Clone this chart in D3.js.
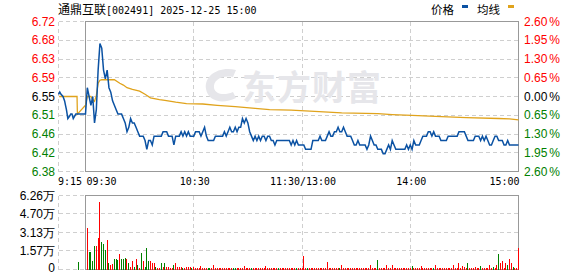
<!DOCTYPE html>
<html>
<head>
<meta charset="utf-8">
<script src="https://cdn.jsdelivr.net/npm/d3@7"></script>
<style>
  html, body { margin: 0; padding: 0; background: #fff; }
  #chart { width: 578px; height: 276px; }
</style>
</head>
<body>
<div id="chart"></div>
<script>
// intraday chart: 通鼎互联 002491, 2025-12-25
const stockName = '通鼎互联';
const stockCode = '[002491] 2025-12-25 15:00';
const prevClose = 6.55;

const pctTicks = [2.6, 1.95, 1.3, 0.65, 0, -0.65, -1.3, -1.95, -2.6];
const priceTickLabels = ['6.72', '6.68', '6.63', '6.59', '6.55', '6.51', '6.46', '6.42', '6.38'];
const pctTickLabels = ['2.60', '1.95', '1.30', '0.65', '0.00', '0.65', '1.30', '1.95', '2.60'];

const volTicks = [6.26, 4.70, 3.13, 1.57, 0];
const volTickLabels = ['6.26万', '4.70万', '3.13万', '1.57万', '0'];

const timeMinutes = [-15, 0, 60, 120, 180, 240];
const timeLabels = ['9:15', '09:30', '10:30', '11:30/13:00', '14:00', '15:00'];

// pre-market auction (minutes before 9:30)
const preMinutes = [-15, -14.3, -13.6, -12.5, -11.6, -11.1, -10.6, -9.8, -8.9, -8.2, -7.5, -6.8, -6.1, -5.4];
const prePrices = [6.555, 6.56, 6.555, 6.55, 6.54, 6.53, 6.52, 6.50, 6.505, 6.51, 6.51, 6.50, 6.505, 6.51];
const preAvgMinutes = [-14.6, -4.7, -4.5];
const preAvgValues = [6.55, 6.55, 6.51];
const preVolMinute = -4;
const preVolValue = 0.62;

// one price per minute, 9:30 .. 15:00 (lunch break removed)
const prices = [
  6.51, 6.57, 6.55, 6.53, 6.55, 6.49, 6.52, 6.61, 6.67, 6.66,
  6.61, 6.59, 6.61, 6.57, 6.56, 6.54, 6.53, 6.52, 6.51, 6.51,
  6.51, 6.50, 6.49, 6.47, 6.48, 6.50, 6.49, 6.49, 6.48, 6.47,
  6.46, 6.46, 6.46, 6.45, 6.43, 6.45, 6.45, 6.44, 6.46, 6.46,
  6.46, 6.46, 6.46, 6.47, 6.47, 6.47, 6.46, 6.46, 6.46, 6.44,
  6.46, 6.46, 6.46, 6.47, 6.46, 6.47, 6.46, 6.47, 6.46, 6.46,
  6.46, 6.47, 6.47, 6.47, 6.46, 6.47, 6.48, 6.46, 6.45, 6.45,
  6.45, 6.45, 6.46, 6.46, 6.46, 6.46, 6.46, 6.47, 6.46, 6.47,
  6.48, 6.47, 6.47, 6.48, 6.47, 6.48, 6.48, 6.50, 6.49, 6.50,
  6.49, 6.47, 6.46, 6.45, 6.46, 6.45, 6.46, 6.45, 6.46, 6.46,
  6.45, 6.46, 6.46, 6.45, 6.45, 6.44, 6.45, 6.45, 6.45, 6.45,
  6.45, 6.45, 6.45, 6.45, 6.44, 6.45, 6.44, 6.45, 6.44, 6.44,
  6.44, 6.44, 6.43, 6.43, 6.43, 6.43, 6.45, 6.45, 6.45, 6.45,
  6.46, 6.45, 6.45, 6.45, 6.46, 6.47, 6.46, 6.46, 6.47, 6.47,
  6.48, 6.47, 6.47, 6.48, 6.47, 6.46, 6.46, 6.46, 6.45, 6.44,
  6.44, 6.45, 6.44, 6.44, 6.44, 6.44, 6.43, 6.44, 6.46, 6.45,
  6.44, 6.44, 6.43, 6.43, 6.43, 6.42, 6.42, 6.43, 6.44, 6.43,
  6.45, 6.44, 6.43, 6.43, 6.43, 6.43, 6.43, 6.43, 6.44, 6.43,
  6.44, 6.43, 6.45, 6.44, 6.44, 6.44, 6.45, 6.46, 6.46, 6.46,
  6.47, 6.47, 6.46, 6.47, 6.46, 6.46, 6.46, 6.45, 6.45, 6.45,
  6.45, 6.46, 6.46, 6.46, 6.46, 6.46, 6.46, 6.47, 6.47, 6.47,
  6.47, 6.46, 6.45, 6.45, 6.45, 6.45, 6.46, 6.46, 6.46, 6.45,
  6.46, 6.45, 6.46, 6.45, 6.44, 6.44, 6.45, 6.46, 6.46, 6.45,
  6.45, 6.45, 6.44, 6.44, 6.45, 6.44, 6.44, 6.44, 6.44, 6.44,
  6.44
];

// average price line (minute, value)
const avgMinutes = [0, 1, 3, 4, 5, 6, 7, 8, 9, 16, 19, 21, 23, 26, 30, 33, 36, 41, 44, 50, 56, 65, 73, 83, 94, 102, 114, 127, 142, 162, 170, 181, 194, 211, 229, 235, 240];
const avgValues = [6.53, 6.55, 6.55, 6.543, 6.539, 6.552, 6.58, 6.587, 6.588, 6.588, 6.58, 6.576, 6.57, 6.566, 6.562, 6.555, 6.547, 6.543, 6.541, 6.537, 6.534, 6.533, 6.53, 6.527, 6.523, 6.52, 6.519, 6.516, 6.513, 6.511, 6.509, 6.507, 6.505, 6.502, 6.50, 6.499, 6.497];

// volume per minute (万手), r = up, g = down
const volumes = [
  0, 3.47, 1.46, 1.46, 0.76, 2.03, 2.03, 2.68, 5.73, 2.34,
  2.12, 1.61, 2.48, 0.51, 0.36, 0.45, 0.93, 0.85, 0.79, 1.30,
  0.85, 0.85, 0.99, 0.93, 0.51, 0.20, 0.76, 0.23, 0.93, 0.34,
  0.15, 1.41, 0.70, 0.23, 1.84, 0.70, 0.70, 0.51, 0.51, 0.23,
  0.15, 0.10, 0.57, 0.23, 0.57, 0.23, 0.23, 0.12, 0.15, 0.42,
  0.57, 0.23, 0.23, 0.17, 0.13, 0.10, 0.23, 0.17, 0.17, 0.13,
  0.17, 0.13, 0.13, 0.10, 0.28, 0.12, 0.10, 0.13, 0.15, 0.13,
  0.12, 0.34, 0.10, 0.12, 0.10, 0.15, 0.12, 0.10, 0.13, 0.12,
  0.10, 0.15, 0.13, 0.13, 0.10, 0.12, 0.15, 0.13, 0.28, 0.12,
  0.10, 0.13, 0.15, 0.12, 0.10, 0.13, 0.12, 0.10, 0.12, 0.13,
  0.28, 0.12, 0.10, 0.12, 0.15, 0.10, 0.12, 0.15, 0.12, 0.10,
  0.13, 0.12, 0.10, 0.12, 0.13, 0.12, 0.15, 0.13, 0.12, 0.10,
  0.12, 1.13, 0.12, 0.15, 0.10, 0.12, 0.13, 0.10, 0.12, 0.10,
  0.13, 0.12, 0.10, 0.12, 0.62, 0.13, 0.12, 0.10, 0.13, 0.12,
  0.10, 0.15, 0.34, 0.12, 0.10, 0.12, 0.13, 0.10, 0.12, 0.12,
  0.10, 0.13, 0.12, 0.10, 0.12, 0.13, 0.12, 0.10, 0.34, 0.12,
  0.13, 0.10, 0.79, 0.12, 0.10, 0.12, 0.13, 0.34, 0.12, 0.10,
  0.34, 0.12, 0.10, 0.12, 0.13, 0.12, 0.10, 0.12, 0.13, 0.15,
  0.10, 0.28, 0.10, 0.12, 0.10, 0.13, 0.28, 0.12, 0.10, 0.13,
  0.12, 0.10, 0.12, 0.15, 0.36, 0.12, 0.10, 0.13, 0.12, 0.10,
  0.12, 0.13, 0.10, 0.12, 0.42, 0.12, 0.15, 0.51, 0.12, 0.28,
  0.20, 0.13, 0.51, 0.12, 0.10, 0.13, 0.20, 0.12, 0.10, 0.28,
  0.10, 0.12, 0.13, 0.12, 0.42, 0.12, 0.25, 0.10, 0.34, 1.35,
  0.51, 0.76, 0.12, 0.57, 0.42, 0.93, 0.51, 0.20, 0.10, 0.10,
  1.78
];
const volumeDirs =
  'rrggggrrrg' + 'ggrgrrgggr' + 'gggrgrrgrg' + 'rgrgggrrrg' + 'rrgrgrrrrg' + 'rrrrgrrrrg' +
  'rrrrrrrrgg' + 'rrrrrrrrrr' + 'rrggrrrrrr' + 'rrgrrrrrrr' + 'rrrrrrrgrr' + 'rrrrrrrgrr' +
  'rrrgrrrrrr' + 'rrrrrrrrrr' + 'rgrrrrrrrr' + 'rrrrrrrrrr' + 'rrgrrrrrrr' + 'rrrrrrrrrr' +
  'rgrrrrrrrr' + 'rrrgrrrrrr' + 'rrrrrrrrrr' + 'rrgrrrrrrg' + 'rrrrrrgrrg' + 'rrrrgrrgrr' + 'r';

(function(){
  const W = 578, H = 276;
  const PRICE_COLOR = '#0b52a3';
  const AVG_COLOR = '#e0a31c';
  const UP = '#ff0000', DOWN = '#008000';
  const GRID = '#cfcfcf', FRAME = '#999';
  const NUM_FONT = '"Liberation Sans", Arial, sans-serif';
  const MONO_FONT = '"DejaVu Sans Mono", "Liberation Mono", monospace';
  const CJK_FONT = '"Noto Sans CJK SC", sans-serif';

  const svg = d3.select('#chart').append('svg')
    .attr('width', W)
    .attr('height', H)
    .style('display', 'block');

  // scales
  const x = d3.scaleLinear().domain([-15, 0, 240]).range([58.5, 85.5, 518.5]);
  const yPct = d3.scaleLinear().domain([-2.6, 2.6]).range([171.5, 21.5]);
  const yPrice = p => yPct((p / prevClose - 1) * 100);
  const yVol = d3.scaleLinear().domain([0, 6.26]).range([269.5, 195.5]);

  // title
  const title = svg.append('text').attr('x', 58).attr('y', 14).attr('fill', '#000');
  title.append('tspan').style('font-family', CJK_FONT).style('font-size', '12px').text(stockName);
  title.append('tspan').style('font-family', MONO_FONT).style('font-size', '10px').text(stockCode);

  // legend
  const legend = svg.append('g').style('font-family', CJK_FONT).style('font-size', '11.5px');
  legend.append('text').attr('x', 431).attr('y', 14).text('价格');
  legend.append('rect').attr('x', 462).attr('y', 5).attr('width', 6).attr('height', 3).attr('fill', PRICE_COLOR);
  legend.append('text').attr('x', 477).attr('y', 14).text('均线');
  legend.append('rect').attr('x', 508).attr('y', 5).attr('width', 6).attr('height', 3).attr('fill', AVG_COLOR);

  // ---------- price panel grid ----------
  const grid = svg.append('g').attr('shape-rendering', 'crispEdges');
  grid.selectAll('line.hgrid')
    .data(pctTicks)
    .join('line')
    .attr('class', 'hgrid')
    .attr('x1', x(-15)).attr('x2', x(240))
    .attr('y1', d => yPct(d)).attr('y2', d => yPct(d))
    .attr('stroke', GRID).attr('stroke-dasharray', '4,3');
  grid.selectAll('line.vgrid')
    .data([-15, 60, 120, 180])
    .join('line')
    .attr('class', 'vgrid')
    .attr('x1', d => x(d)).attr('x2', d => x(d))
    .attr('y1', yPct(2.6)).attr('y2', yPct(-2.6))
    .attr('stroke', GRID).attr('stroke-dasharray', '4,3');

  // ---------- volume panel grid ----------
  grid.selectAll('line.vhgrid')
    .data(volTicks)
    .join('line')
    .attr('class', 'vhgrid')
    .attr('x1', x(-15)).attr('x2', x(240))
    .attr('y1', d => yVol(d)).attr('y2', d => yVol(d))
    .attr('stroke', GRID).attr('stroke-dasharray', '4,3');
  grid.selectAll('line.vvgrid')
    .data([-15, 60, 120, 180])
    .join('line')
    .attr('class', 'vvgrid')
    .attr('x1', d => x(d)).attr('x2', d => x(d))
    .attr('y1', yVol(6.26)).attr('y2', yVol(0))
    .attr('stroke', GRID).attr('stroke-dasharray', '4,3');

  // watermark
  const wm = svg.append('g').attr('fill', '#e6e6ea');
  wm.append('path')
    .attr('d', 'M236,70 C218,66 204,76 206,89 C208,101 222,105 236,98 L233,92 C224,96 215,94 214,88 C213,80 222,75 233,77 Z')
    .attr('fill', '#e6e6ea');
  wm.append('text')
    .attr('x', 242).attr('y', 100)
    .style('font-family', CJK_FONT)
    .style('font-size', '34px')
    .style('font-weight', 'bold')
    .style('letter-spacing', '1px')
    .text('东方财富');

  // frames
  svg.append('rect')
    .attr('x', x(0)).attr('y', yPct(2.6))
    .attr('width', x(240) - x(0)).attr('height', yPct(-2.6) - yPct(2.6))
    .attr('fill', 'none').attr('stroke', FRAME).attr('shape-rendering', 'crispEdges');
  svg.append('rect')
    .attr('x', x(0)).attr('y', yVol(6.26))
    .attr('width', x(240) - x(0)).attr('height', yVol(0) - yVol(6.26))
    .attr('fill', 'none').attr('stroke', FRAME).attr('shape-rendering', 'crispEdges');

  // ---------- axis labels ----------
  const axisText = svg.append('g').style('font-family', NUM_FONT).style('font-size', '12px');
  const tickColor = d => d > 0 ? UP : (d < 0 ? DOWN : '#000');
  axisText.selectAll('text.ptick')
    .data(pctTicks)
    .join('text')
    .attr('class', 'ptick')
    .attr('x', 55).attr('y', d => yPct(d) + 4)
    .attr('text-anchor', 'end')
    .attr('fill', tickColor)
    .text((d, i) => priceTickLabels[i]);
  const pctText = axisText.selectAll('text.pct')
    .data(pctTicks)
    .join('text')
    .attr('class', 'pct')
    .attr('x', 524).attr('y', d => yPct(d) + 4)
    .attr('fill', tickColor);
  pctText.append('tspan').text((d, i) => pctTickLabels[i]);
  pctText.append('tspan').attr('dx', 2).text('%');

  axisText.selectAll('text.vtick')
    .data(volTicks)
    .join('text')
    .attr('class', 'vtick')
    .attr('x', 55).attr('y', d => Math.min(yVol(d) + 4.5, 272))
    .attr('text-anchor', 'end')
    .attr('fill', '#000')
    .text((d, i) => volTickLabels[i]);

  const anchors = ['start', 'start', 'middle', 'middle', 'middle', 'end'];
  svg.append('g').style('font-family', MONO_FONT).style('font-size', '10px')
    .selectAll('text')
    .data(timeMinutes)
    .join('text')
    .attr('x', (d, i) => i === 0 ? 58 : (i === 1 ? 86.5 : x(d) + 1))
    .attr('y', 185)
    .attr('text-anchor', (d, i) => anchors[i])
    .attr('fill', '#000')
    .text((d, i) => timeLabels[i]);

  // ---------- volume bars ----------
  const volData = [{m: preVolMinute, v: preVolValue, dir: 'g'}]
    .concat(volumes.map((v, i) => ({m: i, v: v, dir: volumeDirs[i]})))
    .filter(d => d.v > 0);
  svg.append('g').attr('shape-rendering', 'crispEdges')
    .selectAll('rect')
    .data(volData)
    .join('rect')
    .attr('x', d => Math.floor(x(d.m)))
    .attr('width', 1)
    .attr('y', d => yVol(d.v))
    .attr('height', d => yVol(0) - yVol(d.v))
    .attr('fill', d => d.dir === 'r' ? UP : DOWN);

  // ---------- lines ----------
  const line = d3.line().x(d => x(d[0])).y(d => yPrice(d[1]));
  const avgPts = preAvgMinutes.map((m, i) => [m, preAvgValues[i]])
    .concat(avgMinutes.map((m, i) => [m, avgValues[i]]));
  svg.append('path')
    .datum(avgPts)
    .attr('d', line)
    .attr('fill', 'none')
    .attr('stroke', AVG_COLOR)
    .attr('stroke-width', 1.3);

  const pricePts = preMinutes.map((m, i) => [m, prePrices[i]])
    .concat(prices.map((p, i) => [i, p]));
  svg.append('path')
    .datum(pricePts)
    .attr('d', line)
    .attr('fill', 'none')
    .attr('stroke', PRICE_COLOR)
    .attr('stroke-width', 1.5)
    .attr('stroke-linejoin', 'miter');
})();
</script>
</body>
</html>
